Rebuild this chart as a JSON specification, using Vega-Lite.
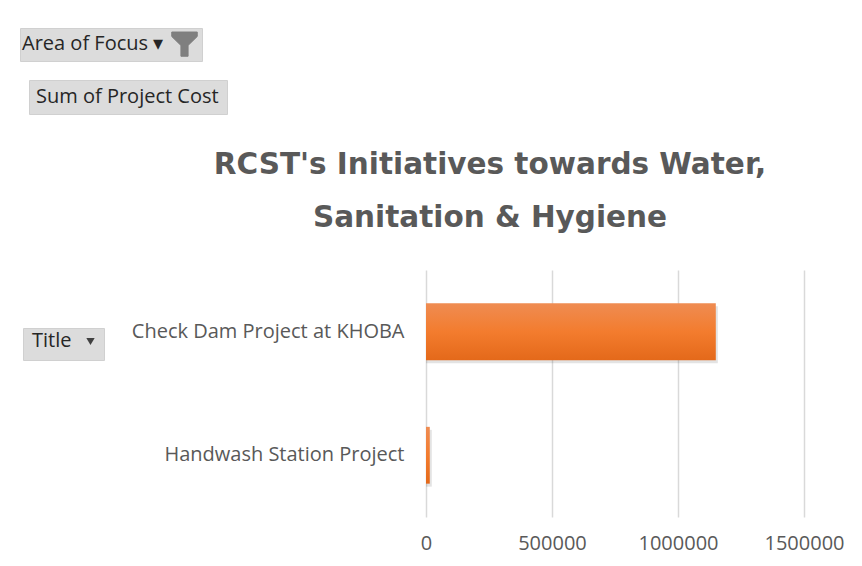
{
  "$schema": "https://vega.github.io/schema/vega-lite/v6.json",
  "width": 378,
  "height": 247,
  "autosize": {"type": "none"},
  "padding": {"left": 426, "top": 270, "right": 58, "bottom": 49},
  "background": "white",
  "title": {
    "text": ["RCST's Initiatives towards Water,", "Sanitation  & Hygiene"],
    "font": "DejaVu Sans",
    "fontSize": 29.5,
    "fontWeight": "bold",
    "color": "#595959",
    "anchor": "middle",
    "frame": "group",
    "dx": -125,
    "dy": 282,
    "offset": 47,
    "baseline": "bottom",
    "lineHeight": 53
  },
  "data": {
    "values": [
      {"Title": "Check Dam Project at KHOBA", "Area of Focus": "Water, Sanitation & Hygiene", "Project Cost": 1150000},
      {"Title": "Handwash Station Project", "Area of Focus": "Water, Sanitation & Hygiene", "Project Cost": 15000}
    ]
  },
  "encoding": {
    "y": {
      "field": "Title",
      "type": "nominal",
      "sort": null,
      "scale": {"paddingInner": 0.54, "paddingOuter": 0.27},
      "axis": {
        "title": null,
        "domain": false,
        "ticks": false,
        "labelFont": "Open Sans",
        "labelFontSize": 20,
        "labelColor": "#595959",
        "labelPadding": 22,
        "labelLimit": 400
      }
    },
    "x": {
      "field": "Project Cost",
      "type": "quantitative",
      "aggregate": "sum",
      "scale": {"domain": [0, 1500000], "nice": false},
      "axis": {
        "title": null,
        "values": [0, 500000, 1000000, 1500000],
        "format": "d",
        "grid": true,
        "gridColor": "#d9d9d9",
        "gridWidth": 1.5,
        "domain": false,
        "ticks": false,
        "labelFont": "Open Sans",
        "labelFontSize": 20,
        "labelColor": "#595959",
        "labelPadding": 16,
        "labelFlush": false
      }
    }
  },
  "layer": [
    {
      "mark": {"type": "bar", "color": "#404040", "opacity": 0.15, "xOffset": 2, "yOffset": 3},
      "encoding": {
        "strokeDash": {
          "field": "Title",
          "type": "nominal",
          "legend": {
            "title": "Title",
            "legendX": -403,
            "legendY": 58,
            "values": ["Check Dam Project at KHOBA"],
            "symbolType": "triangle-down",
            "symbolSize": 70,
            "symbolOpacity": 1,
            "symbolStrokeWidth": 0,
            "titlePadding": 14,
            "labelExpr": "''",
            "padding": 9,
            "encode": {
              "legend": {"fill": {"value": {"gradient": "linear", "x1": 0, "y1": 0, "x2": 0, "y2": 1, "stops": [{"offset": 0, "color": "#eeeeee"}, {"offset": 1, "color": "#cfcfcf"}]}}}
            }
          }
        }
      }
    },
    {
      "mark": {
        "type": "bar",
        "color": {
          "gradient": "linear",
          "x1": 0, "y1": 0, "x2": 0, "y2": 1,
          "stops": [
            {"offset": 0, "color": "#EF8C52"},
            {"offset": 0.5, "color": "#F37C2E"},
            {"offset": 1, "color": "#E4691A"}
          ]
        }
      },
      "encoding": {
        "opacity": {
          "field": "Area of Focus",
          "type": "nominal",
          "scale": {"range": [1]},
          "legend": {
            "title": "Sum of Project Cost",
            "legendX": -397,
            "legendY": -190,
            "symbolSize": 0,
            "symbolStrokeWidth": 0,
            "symbolOpacity": 0,
            "clipHeight": 19,
            "titlePadding": 0,
            "labelExpr": "''",
            "padding": 7,
            "encode": {
              "legend": {"fill": {"value": {"gradient": "linear", "x1": 0, "y1": 0, "x2": 0, "y2": 1, "stops": [{"offset": 0, "color": "#eeeeee"}, {"offset": 1, "color": "#cfcfcf"}]}}}
            }
          }
        }
      }
    },
    {
      "mark": {"type": "bar", "color": "#7f7f7f", "opacity": 0},
      "encoding": {
        "stroke": {
          "field": "Area of Focus",
          "type": "nominal",
          "scale": {"range": ["#7f7f7f"]},
          "legend": {
            "title": "Area of Focus ▾",
            "legendX": -406,
            "legendY": -242,
            "symbolType": "M-1,-0.9L1,-0.9L1,-0.55L0.28,0.15L0.28,1L-0.28,1L-0.28,0.15L-1,-0.55Z",
            "symbolSize": 650,
            "symbolOpacity": 1,
            "symbolStrokeWidth": 1,
            "titlePadding": 7,
            "labelExpr": "''",
            "padding": 2,
            "encode": {
              "legend": {"fill": {"value": {"gradient": "linear", "x1": 0, "y1": 0, "x2": 0, "y2": 1, "stops": [{"offset": 0, "color": "#eeeeee"}, {"offset": 1, "color": "#cfcfcf"}]}}}
            }
          }
        }
      }
    }
  ],
  "resolve": {
    "legend": {"opacity": "independent", "strokeDash": "independent", "stroke": "independent"}
  },
  "config": {
    "view": {"stroke": null},
    "legend": {
      "orient": "none",
      "titleOrient": "left",
      "direction": "horizontal",
      "titleFont": "Open Sans",
      "titleFontSize": 20,
      "titleFontWeight": "normal",
      "titleColor": "#262626",
      "titleBaseline": "middle",
      "titleLimit": 300,
      "labelFontSize": 1,
      "labelColor": "transparent",
      "labelOffset": 0,
      "fillColor": "#dcdcdc",
      "strokeColor": "#d0d0d0"
    }
  }
}
